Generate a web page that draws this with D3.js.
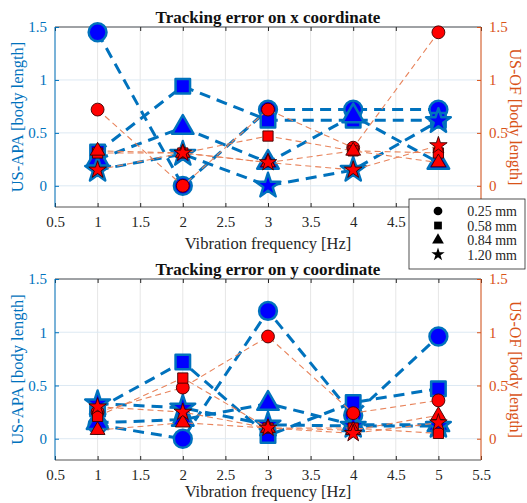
<!DOCTYPE html>
<html>
<head>
<meta charset="utf-8">
<script src="https://cdn.jsdelivr.net/npm/d3@7"></script>
<style>
  body { margin: 0; background: #fff; }
  svg text { font-family: "Liberation Serif", "DejaVu Serif", serif; }
</style>
</head>
<body>
<div id="vis"></div>
<script>
const W = 527, H = 503;

// data
const freqs = [1, 2, 3, 4, 5];
const sizes = ["0.25 mm", "0.58 mm", "0.84 mm", "1.20 mm"];
const xTicks = [0.5, 1, 1.5, 2, 2.5, 3, 3.5, 4, 4.5, 5, 5.5];
const yTicks = [0, 0.5, 1, 1.5];

// x coordinate, US-APA (left axis), one row per size
const xApa = [
  [1.45, 0.0, 0.72, 0.72, 0.72],
  [0.32, 0.94, 0.62, 0.62, 0.62],
  [0.25, 0.55, 0.22, 0.66, 0.22],
  [0.15, 0.30, 0.0, 0.15, 0.61]
];
// x coordinate, US-OF (right axis)
const xOf = [
  [0.72, 0.0, 0.72, 0.36, 1.45],
  [0.31, 0.31, 0.47, 0.33, 0.31],
  [0.33, 0.31, 0.22, 0.33, 0.22],
  [0.15, 0.31, 0.22, 0.15, 0.38]
];
// y coordinate, US-APA
const yApa = [
  [0.13, 0.0, 1.2, 0.22, 0.96],
  [0.28, 0.72, 0.03, 0.34, 0.47],
  [0.15, 0.18, 0.33, 0.13, 0.13],
  [0.33, 0.29, 0.13, 0.12, 0.12]
];
// y coordinate, US-OF
const yOf = [
  [0.25, 0.48, 0.96, 0.24, 0.36],
  [0.21, 0.57, 0.10, 0.10, 0.05],
  [0.08, 0.15, 0.10, 0.08, 0.22],
  [0.30, 0.25, 0.10, 0.05, 0.15]
];

const blue = "#0072BD", orange = "#D95319";
const symbols = [d3.symbolCircle, d3.symbolSquare, d3.symbolTriangle, d3.symbolStar];
const bigSize = [250, 210, 200, 190];
const smallSize = [130, 105, 95, 95];

const svg = d3.select("#vis").append("svg")
  .attr("width", W).attr("height", H);

const x = d3.scaleLinear().domain([0.5, 5.5]).range([55, 481]);

function styleText(sel, color) {
  sel.attr("fill", color).attr("font-family", "'Liberation Serif', serif")
    .style("font-size", "15px")
    .style("font-family", "'Liberation Serif', serif");
}

function panel(top, bottom, title, apa, of, xLabels, xLabelDy) {
  const y = d3.scaleLinear().domain([-0.2, 1.5]).range([bottom, top]);
  const g = svg.append("g");

  // grid
  g.selectAll(".gx").data(xTicks).enter().append("line")
    .attr("x1", d => x(d)).attr("x2", d => x(d))
    .attr("y1", top).attr("y2", bottom)
    .attr("stroke", "#e6e6e6").attr("stroke-width", 1);
  g.selectAll(".gy").data(yTicks).enter().append("line")
    .attr("x1", x(0.5)).attr("x2", x(5.5))
    .attr("y1", d => y(d)).attr("y2", d => y(d))
    .attr("stroke", "#dde9f3").attr("stroke-width", 1);

  // box edges
  g.append("line").attr("x1", x(0.5)).attr("x2", x(5.5)).attr("y1", top).attr("y2", top)
    .attr("stroke", "#262626").attr("stroke-width", 0.8);
  g.append("line").attr("x1", x(0.5)).attr("x2", x(5.5)).attr("y1", bottom).attr("y2", bottom)
    .attr("stroke", "#262626").attr("stroke-width", 0.8);

  // axes
  const ax = g.append("g").attr("transform", `translate(0,${bottom})`)
    .call(d3.axisBottom(x).tickValues(xTicks)
      .tickFormat(d => xLabels.includes(d) ? d3.format("")(d) : "")
      .tickSize(-4).tickPadding(9));
  ax.select(".domain").remove();
  ax.selectAll("line").attr("stroke", "#262626");
  styleText(ax.selectAll("text"), "#262626");
  const axTop = g.append("g").attr("transform", `translate(0,${top})`)
    .call(d3.axisTop(x).tickValues(xTicks).tickFormat("").tickSize(-4));
  axTop.select(".domain").remove();
  axTop.selectAll("line").attr("stroke", "#262626");

  const al = g.append("g").attr("transform", `translate(${x(0.5)},0)`)
    .call(d3.axisLeft(y).tickValues(yTicks).tickFormat(d3.format("")).tickSize(-4).tickPadding(8));
  al.select(".domain").attr("stroke", blue).attr("d", `M0,${bottom}V${top}`);
  al.selectAll("line").attr("stroke", blue);
  styleText(al.selectAll("text"), blue);

  const ar = g.append("g").attr("transform", `translate(${x(5.5)},0)`)
    .call(d3.axisRight(y).tickValues(yTicks).tickFormat(d3.format("")).tickSize(-4).tickPadding(8));
  ar.select(".domain").attr("stroke", orange).attr("d", `M0,${bottom}V${top}`);
  ar.selectAll("line").attr("stroke", orange);
  styleText(ar.selectAll("text"), orange);

  // labels
  g.append("text").attr("x", (x(0.5) + x(5.5)) / 2).attr("y", top - 4)
    .attr("text-anchor", "middle").attr("font-weight", "bold").attr("font-size", 17)
    .attr("fill", "#111").text(title);
  g.append("text").attr("x", (x(0.5) + x(5.5)) / 2).attr("y", bottom + xLabelDy)
    .attr("text-anchor", "middle").attr("font-size", 16.5).attr("fill", "#262626")
    .text("Vibration frequency [Hz]");
  g.append("text").attr("transform", `translate(23,${(top + bottom) / 2}) rotate(-90)`)
    .attr("text-anchor", "middle").attr("font-size", 16.5).attr("fill", blue)
    .text("US-APA [body length]");
  g.append("text").attr("transform", `translate(510,${(top + bottom) / 2}) rotate(90)`)
    .attr("text-anchor", "middle").attr("font-size", 16).attr("fill", orange)
    .text("US-OF [body length]");

  const line = d3.line().x((d, i) => x(freqs[i])).y(d => y(d));

  // US-APA series
  apa.forEach(vals => {
    g.append("path").attr("d", line(vals)).attr("fill", "none")
      .attr("stroke", blue).attr("stroke-width", 3).attr("stroke-dasharray", "11,7");
  });
  apa.forEach((vals, s) => {
    g.selectAll(null).data(vals).enter().append("path")
      .attr("transform", (d, i) => `translate(${x(freqs[i])},${y(d)})`)
      .attr("d", d3.symbol().type(symbols[s]).size(bigSize[s]))
      .attr("fill", "#0000ff").attr("stroke", blue).attr("stroke-width", 2.5)
      .attr("stroke-linejoin", "round");
  });

  // US-OF series
  of.forEach(vals => {
    g.append("path").attr("d", line(vals)).attr("fill", "none")
      .attr("stroke", "#e8845c").attr("stroke-width", 1.1).attr("stroke-dasharray", "6,4");
  });
  of.forEach((vals, s) => {
    g.selectAll(null).data(vals).enter().append("path")
      .attr("transform", (d, i) => `translate(${x(freqs[i])},${y(d)})`)
      .attr("d", d3.symbol().type(symbols[s]).size(smallSize[s]))
      .attr("fill", "#ff0000").attr("stroke", "#3a0000").attr("stroke-width", 0.9);
  });
}

// top panel: 5 and 5.5 labels sit under the legend
panel(27, 207, "Tracking error on x coordinate", xApa, xOf, xTicks.slice(0, 9), 42);
panel(279, 460, "Tracking error on y coordinate", yApa, yOf, xTicks, 37);

// legend
const lg = svg.append("g").attr("transform", "translate(409,199)");
lg.append("rect").attr("width", 116).attr("height", 70)
  .attr("fill", "#fff").attr("stroke", "#262626").attr("stroke-width", 0.8);
sizes.forEach((s, i) => {
  const yy = 12 + i * 14.5;
  lg.append("path").attr("transform", `translate(29,${yy})`)
    .attr("d", d3.symbol().type(symbols[i]).size(i === 3 ? 55 : 60))
    .attr("fill", "#000");
  lg.append("text").attr("x", 108).attr("y", yy + 5).attr("text-anchor", "end")
    .attr("font-size", 14).attr("fill", "#262626").text(s);
});
</script>
</body>
</html>
